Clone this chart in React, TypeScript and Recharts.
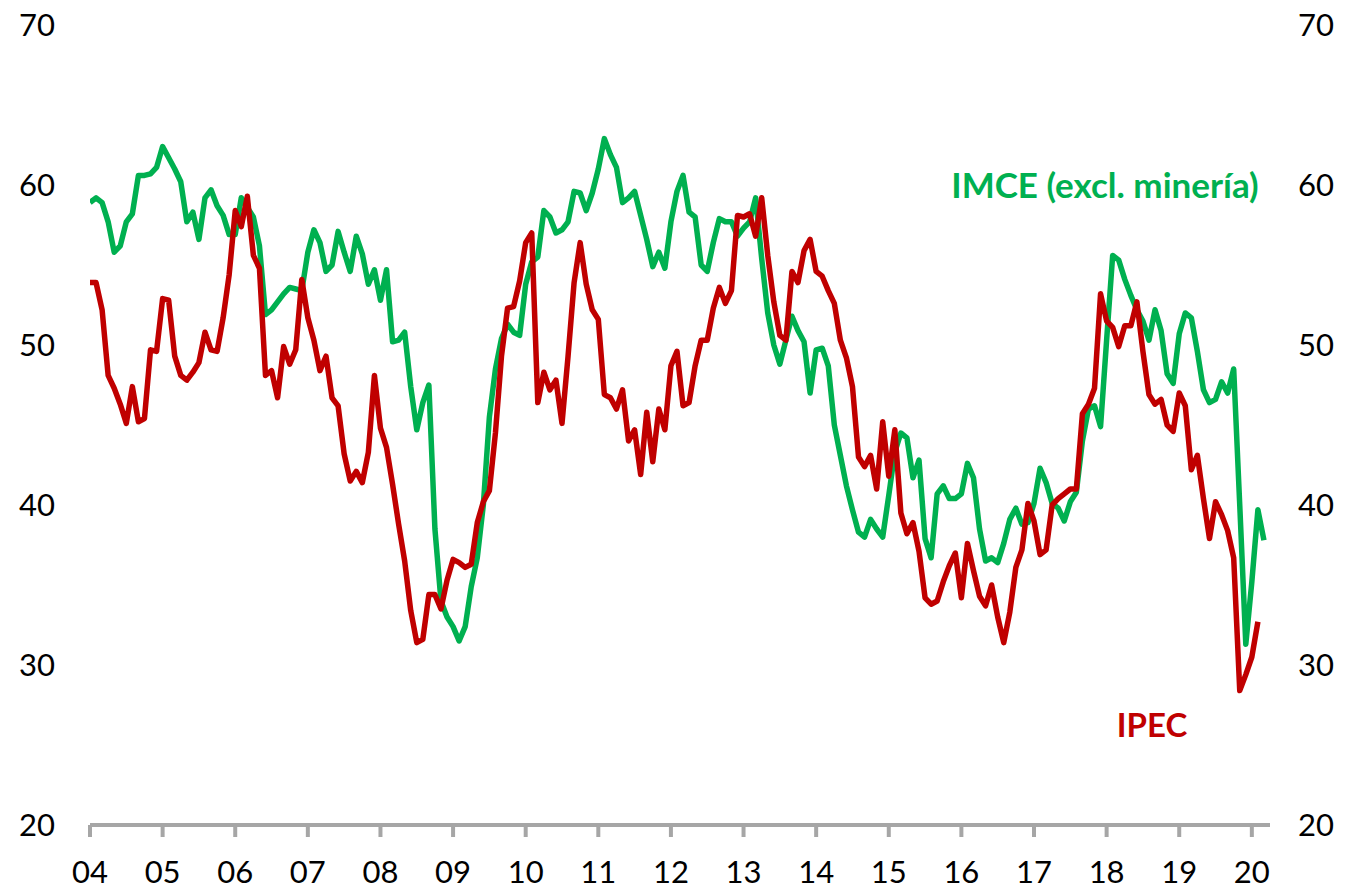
import React from 'react';
import { LineChart, Line, XAxis, YAxis, Customized } from 'recharts';

const yearLabels = ['04','05','06','07','08','09','10','11','12','13','14','15','16','17','18','19','20'];
const yTicks = [20, 30, 40, 50, 60, 70];

// IMCE (excl. minería), monthly from Jan 2004
const imce: number[] = [
  58.9, 59.2, 58.9, 57.7, 55.8, 56.2, 57.7, 58.2, 60.6, 60.6, 60.7, 61.1,
  62.4, 61.7, 61.0, 60.2, 57.7, 58.3, 56.6, 59.2, 59.7, 58.7, 58.1, 56.9,
  56.9, 59.2, 58.6, 58.0, 56.2, 51.9, 52.2, 52.7, 53.2, 53.6, 53.5, 53.4,
  55.8, 57.2, 56.4, 54.6, 55.0, 57.1, 55.8, 54.6, 56.8, 55.7, 53.8, 54.7,
  52.8, 54.7, 50.2, 50.3, 50.8, 47.4, 44.7, 46.4, 47.5, 38.5, 34.0, 33.0,
  32.4, 31.5, 32.4, 34.9, 36.7, 40.0, 45.5, 48.5, 50.4, 51.3, 50.8, 50.6,
  53.8, 55.2, 55.5, 58.4, 58.0, 57.0, 57.2, 57.7, 59.6, 59.5, 58.4, 59.5,
  61.0, 62.9, 61.9, 61.1, 58.9, 59.2, 59.6, 58.1, 56.6, 54.9, 55.8, 54.8,
  57.7, 59.6, 60.6, 58.3, 58.0, 55.0, 54.6, 56.4, 57.9, 57.7, 57.7, 56.8,
  57.3, 57.7, 59.2, 55.4, 52.0, 50.0, 48.8, 50.3, 51.8, 50.9, 50.2, 47.0,
  49.7, 49.8, 48.7, 45.0, 43.1, 41.2, 39.7, 38.3, 38.0, 39.1, 38.5, 38.0,
  40.6, 43.3, 44.5, 44.2, 41.7, 42.8, 37.9, 36.7, 40.7, 41.2, 40.4, 40.4,
  40.7, 42.6, 41.7, 38.5, 36.5, 36.7, 36.4, 37.6, 39.1, 39.8, 38.8, 38.9,
  40.1, 42.3, 41.4, 40.1, 39.8, 39.0, 40.2, 40.8, 44.0, 46.0, 46.2, 44.9,
  50.3, 55.6, 55.3, 54.1, 53.1, 52.2, 51.5, 50.3, 52.2, 50.9, 48.2, 47.6,
  50.7, 52.0, 51.7, 49.6, 47.2, 46.4, 46.6, 47.7, 47.0, 48.5, 40.0, 31.3,
  35.2, 39.7, 37.8,
];

// IPEC, monthly from Jan 2004
const ipec: number[] = [
  53.9, 53.9, 52.2, 48.1, 47.3, 46.3, 45.1, 47.4, 45.2, 45.4, 49.7, 49.6,
  52.9, 52.8, 49.3, 48.1, 47.8, 48.3, 48.9, 50.8, 49.7, 49.6, 51.7, 54.4,
  58.4, 57.4, 59.3, 55.6, 54.8, 48.1, 48.4, 46.7, 49.9, 48.8, 49.7, 54.1,
  51.7, 50.3, 48.4, 49.3, 46.7, 46.2, 43.2, 41.5, 42.1, 41.4, 43.3, 48.1,
  44.8, 43.6, 41.3, 38.8, 36.5, 33.4, 31.4, 31.6, 34.4, 34.4, 33.5, 35.3,
  36.6, 36.4, 36.1, 36.3, 38.9, 40.2, 40.9, 44.5, 49.3, 52.3, 52.4, 54.0,
  56.4, 57.0, 46.4, 48.3, 47.2, 47.8, 45.1, 49.3, 53.9, 56.4, 53.8, 52.2,
  51.6, 46.9, 46.7, 46.0, 47.2, 44.0, 44.7, 41.9, 45.8, 42.7, 46.0, 44.7,
  48.7, 49.6, 46.2, 46.4, 48.7, 50.3, 50.3, 52.3, 53.6, 52.6, 53.4, 58.1,
  58.0, 58.2, 56.8, 59.2, 55.6, 52.7, 50.6, 50.3, 54.6, 53.9, 55.9, 56.6,
  54.6, 54.3, 53.4, 52.6, 50.3, 49.2, 47.4, 43.0, 42.4, 43.1, 41.0, 45.2,
  41.8, 44.7, 39.5, 38.2, 38.9, 37.1, 34.2, 33.8, 34.0, 35.2, 36.2, 37.0,
  34.2, 37.6, 35.9, 34.3, 33.7, 35.0, 33.0, 31.4, 33.3, 36.1, 37.2, 40.1,
  39.0, 36.9, 37.2, 40.0, 40.4, 40.7, 41.0, 41.0, 45.7, 46.3, 47.3, 53.2,
  51.5, 51.1, 49.9, 51.2, 51.2, 52.7, 49.6, 46.9, 46.3, 46.6, 45.0, 44.6,
  47.0, 46.2, 42.2, 43.1, 40.4, 37.9, 40.2, 39.4, 38.4, 36.7, 28.4, 29.4,
  30.5, 32.7,
];

const data = imce.map((v, i) => ({ i, imce: v, ipec: i < ipec.length ? ipec[i] : null }));
const xTicks = yearLabels.map((_, k) => k * 12);

const FONT = 'Lato, "Open Sans", sans-serif';
const GREEN = '#00B050';
const RED = '#C00000';
const AXIS = '#A6A6A6';

const Labels = () => (
  <g>
    <text x={1105} y={198} textAnchor="middle" fill={GREEN} fontFamily={FONT} fontWeight={700} fontSize={35}>
      IMCE (excl. minería)
    </text>
    <text x={1152} y={737} textAnchor="middle" fill={RED} fontFamily={FONT} fontWeight={700} fontSize={33}>
      IPEC
    </text>
  </g>
);

export default function App() {
  const tickStyle = { fill: '#000000', fontSize: 31, fontFamily: FONT };
  return (
    <div style={{ position: 'absolute', left: 0, top: 0, width: 1360, height: 893, background: '#fff' }}>
      <LineChart width={1360} height={893} data={data} margin={{ top: 25, right: 0, bottom: 0, left: 0 }}>
        <XAxis
          dataKey="i"
          type="number"
          domain={[0, 195]}
          ticks={xTicks}
          tickFormatter={(v: number) => yearLabels[Math.round(v / 12)]}
          axisLine={{ stroke: AXIS, strokeWidth: 4 }}
          tickLine={{ stroke: AXIS, strokeWidth: 4 }}
          tickSize={12}
          tickMargin={24}
          height={68}
          tick={tickStyle}
          interval={0}
          allowDataOverflow
        />
        <YAxis
          yAxisId="l"
          domain={[20, 70]}
          ticks={yTicks}
          axisLine={false}
          tickLine={false}
          tickSize={0}
          tickMargin={35}
          width={90}
          tick={tickStyle}
          interval={0}
        />
        <YAxis
          yAxisId="r"
          orientation="right"
          domain={[20, 70]}
          ticks={yTicks}
          axisLine={false}
          tickLine={false}
          tickSize={0}
          tickMargin={28}
          width={90}
          tick={tickStyle}
          interval={0}
        />
        <Line yAxisId="l" type="linear" dataKey="imce" stroke={GREEN} strokeWidth={5.5} dot={false} isAnimationActive={false} strokeLinejoin="round" />
        <Line yAxisId="r" type="linear" dataKey="ipec" stroke={RED} strokeWidth={5.5} dot={false} isAnimationActive={false} strokeLinejoin="round" connectNulls={false} />
        <Customized component={Labels} />
      </LineChart>
    </div>
  );
}
